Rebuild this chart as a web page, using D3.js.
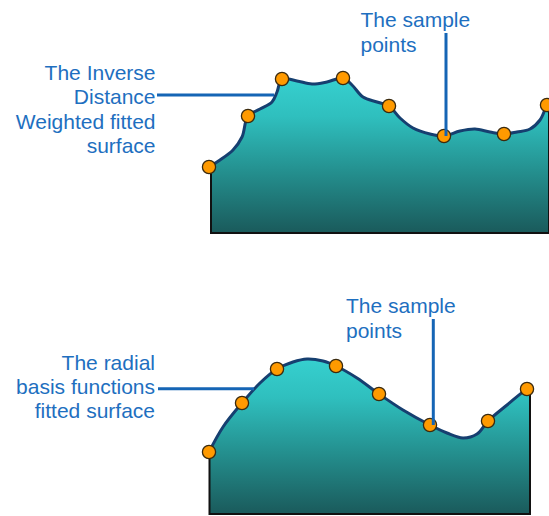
<!DOCTYPE html>
<html>
<head>
<meta charset="utf-8">
<script src="https://cdn.jsdelivr.net/npm/d3@7"></script>
<style>
  html, body { margin: 0; padding: 0; background: #ffffff; }
  svg { display: block; }
  text { font-family: "Liberation Sans", Arial, sans-serif; }
</style>
</head>
<body>
<svg id="chart" width="549" height="516"></svg>
<script>
// ---------- DATA ----------
// Inverse Distance Weighted panel: sample points (distance, elevation)
const idwSampleX = [0, 39, 73, 134, 180, 235, 295, 338];
const idwSampleY = [66, 117, 154, 155, 127, 97, 99, 128];
// IDW fitted surface profile
const idwSurfaceX = [0, 11, 24, 33, 39, 51, 63, 68, 73, 88, 103, 118, 134, 143, 154, 168, 180, 191, 204, 221, 235, 251, 266, 281, 295, 308, 321, 331, 338, 344];
const idwSurfaceY = [66, 73, 83, 96, 117, 124, 131, 141, 154, 152, 149, 151, 155, 148, 136, 131, 127, 115, 105, 99, 97, 102, 104, 101, 99, 101, 104, 113, 128, 137];

// Radial basis function panel: sample points
const rbfSampleX = [0, 33, 68, 127, 170, 221, 279, 318];
const rbfSampleY = [62, 111, 145, 148, 120, 89, 93, 125];
// RBF fitted surface profile
const rbfSurfaceX = [0, 14, 33, 51, 68, 84, 98, 114, 127, 148, 170, 194, 221, 238, 254, 268, 279, 298, 318, 321];
const rbfSurfaceY = [62, 87, 111, 131, 145, 152, 155, 153, 148, 136, 120, 104, 89, 81, 76, 80, 93, 109, 125, 126];

// Annotation texts
const idwLabel = ["The Inverse", "Distance", "Weighted fitted", "surface"];
const rbfLabel = ["The radial", "basis functions", "fitted surface"];
const sampleLabel = ["The sample", "points"];

// ---------- STYLE ----------
const textColor = "#1e6fc0";
const leaderColor = "#1565b5";
const curveColor = "#163f70";
const pointFill = "#ff9a00";
const pointStroke = "#3b2a0e";

const svg = d3.select("#chart");

const defs = svg.append("defs");
const grad = defs.append("linearGradient")
  .attr("id", "tealGrad")
  .attr("x1", 0).attr("y1", 0).attr("x2", 0).attr("y2", 1);
grad.append("stop").attr("offset", "0%").attr("stop-color", "#36d0cf");
grad.append("stop").attr("offset", "25%").attr("stop-color", "#2fbfbe");
grad.append("stop").attr("offset", "60%").attr("stop-color", "#24908f");
grad.append("stop").attr("offset", "100%").attr("stop-color", "#1a5a5b");

function panel(cfg) {
  const x = d3.scaleLinear().domain(cfg.xDomain).range(cfg.xRange);
  const y = d3.scaleLinear().domain([0, 160]).range(cfg.yRange);
  const surf = cfg.surfX.map((v, i) => [v, cfg.surfY[i]]);
  const samples = cfg.sampX.map((v, i) => [v, cfg.sampY[i]]);
  const g = svg.append("g");
  const clipId = cfg.id + "clip";
  defs.append("clipPath").attr("id", clipId)
    .append("rect")
    .attr("x", x(cfg.xDomain[0])).attr("y", 0)
    .attr("width", x(cfg.xDomain[1]) - x(cfg.xDomain[0]))
    .attr("height", 516);

  const area = d3.area()
    .x(d => x(d[0])).y0(y(0)).y1(d => y(d[1]))
    .curve(d3.curveCatmullRom.alpha(0.5));
  const line = d3.line()
    .x(d => x(d[0])).y(d => y(d[1]))
    .curve(d3.curveCatmullRom.alpha(0.5));

  const body = g.append("g").attr("clip-path", `url(#${clipId})`);
  body.append("path").datum(surf)
    .attr("d", area)
    .attr("fill", "url(#tealGrad)");

  // frame: left, bottom, right edges
  const x0 = x(cfg.xDomain[0]), x1 = x(cfg.xDomain[1]);
  const yb = y(0);
  const yl = y(cfg.surfY[0]);
  const yr = y(cfg.rightEdgeY);
  g.append("path")
    .attr("d", `M${x0},${yl}L${x0},${yb}L${x1},${yb}L${x1},${yr}`)
    .attr("fill", "none").attr("stroke", "#111").attr("stroke-width", 2);

  body.append("path").datum(surf)
    .attr("d", line)
    .attr("fill", "none")
    .attr("stroke", curveColor)
    .attr("stroke-width", 3)
    .attr("stroke-linejoin", "round");

  return { g, x, y, samples };
}

function drawPoints(p) {
  p.g.selectAll("circle.pt").data(p.samples).join("circle")
    .attr("class", "pt")
    .attr("cx", d => p.x(d[0])).attr("cy", d => p.y(d[1]))
    .attr("r", 6.6)
    .attr("fill", pointFill)
    .attr("stroke", pointStroke)
    .attr("stroke-width", 1.3);
}

function label(lines, xPos, y0, dy, anchor) {
  const t = svg.append("text")
    .attr("fill", textColor)
    .attr("font-size", 21)
    .attr("text-anchor", anchor);
  lines.forEach((s, i) => {
    t.append("tspan").attr("x", xPos).attr("y", y0 + i * dy).text(s);
  });
}

function leader(x1, y1, x2, y2) {
  svg.append("line")
    .attr("x1", x1).attr("y1", y1).attr("x2", x2).attr("y2", y2)
    .attr("stroke", leaderColor).attr("stroke-width", 3);
}

// ---------- TOP PANEL (IDW) ----------
const idwPanel = panel({
  id: "idw",
  xDomain: [2, 340], xRange: [211, 549],
  yRange: [233, 73],
  surfX: idwSurfaceX, surfY: idwSurfaceY, sampX: idwSampleX, sampY: idwSampleY,
  rightEdgeY: 133
});
label(idwLabel, 155.5, 80, 24.4, "end");
leader(157, 95, idwPanel.x(65), 95);
label(sampleLabel, 360.5, 26.7, 25, "start");
leader(idwPanel.x(idwSampleX[5]) + 2, 33, idwPanel.x(idwSampleX[5]) + 2, idwPanel.y(idwSampleY[5]));
drawPoints(idwPanel);

// ---------- BOTTOM PANEL (RBF) ----------
const rbfPanel = panel({
  id: "rbf",
  xDomain: [0.5, 321], xRange: [209.5, 530],
  yRange: [514, 354],
  surfX: rbfSurfaceX, surfY: rbfSurfaceY, sampX: rbfSampleX, sampY: rbfSampleY,
  rightEdgeY: 126
});
label(rbfLabel, 155, 370, 24.2, "end");
leader(158, 388.7, rbfPanel.x(45), 388.7);
label(sampleLabel, 346, 313.3, 25, "start");
leader(rbfPanel.x(rbfSampleX[5]) + 3.3, 319, rbfPanel.x(rbfSampleX[5]) + 3.3, rbfPanel.y(rbfSampleY[5]));
drawPoints(rbfPanel);
</script>
</body>
</html>
